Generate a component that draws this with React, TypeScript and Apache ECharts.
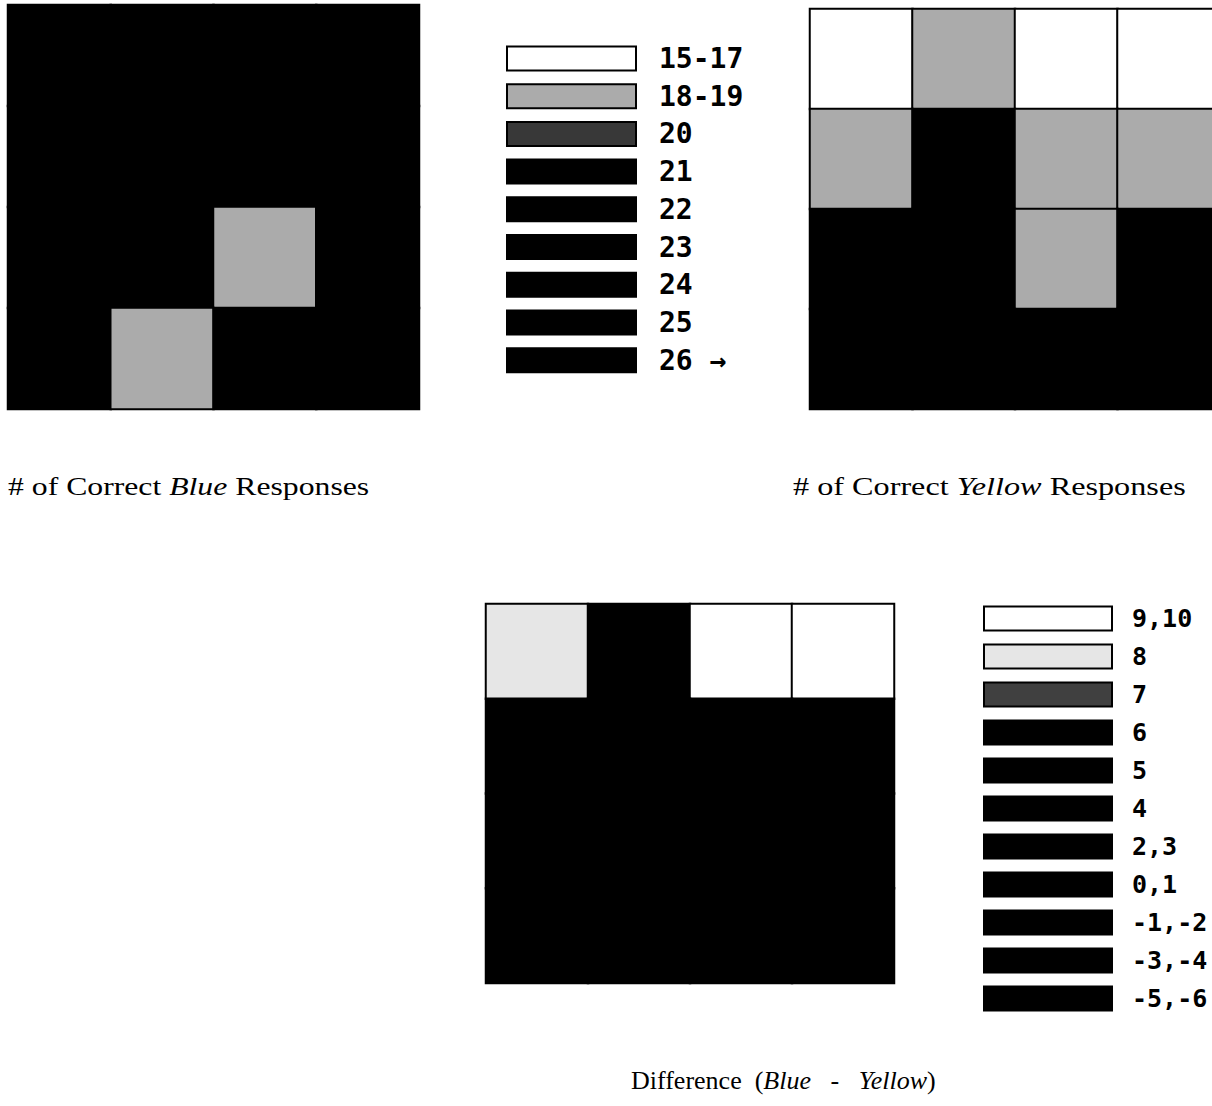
import React, { useEffect, useRef } from "react";
import * as echarts from "echarts";

// Grid columns / rows (4 x 4 conditions)
const gridCols = ["c1", "c2", "c3", "c4"];
const gridRows = ["r1", "r2", "r3", "r4"];

// # of correct Blue responses (row by row, top to bottom)
const blueValues = [
  [24, 24, 26, 26],
  [23, 24, 23, 22],
  [21, 22, 19, 23],
  [23, 18, 21, 24],
];

// # of correct Yellow responses
const yellowValues = [
  [16, 18, 16, 17],
  [18, 22, 19, 19],
  [21, 23, 18, 22],
  [22, 24, 23, 25],
];

// Difference (Blue - Yellow)
const diffValues = [
  [8, 6, 10, 9],
  [5, 2, 4, 3],
  [0, -1, 1, 1],
  [1, -6, -2, -1],
];

// Response-count legend bins
const countLabels = ["15-17", "18-19", "20", "21", "22", "23", "24", "25", "26 →"];
const countMin = [15, 18, 20, 21, 22, 23, 24, 25, 26];
const countMax = [17, 19, 20, 21, 22, 23, 24, 25, null];
const countColors = ["#ffffff", "#ababab", "#383838", "#000000", "#000000", "#000000", "#000000", "#000000", "#000000"];

// Difference legend bins
const diffLabels = ["9,10", "8", "7", "6", "5", "4", "2,3", "0,1", "-1,-2", "-3,-4", "-5,-6"];
const diffMin = [9, 8, 7, 6, 5, 4, 2, 0, -2, -4, -6];
const diffMax = [10, 8, 7, 6, 5, 4, 3, 1, -1, -3, -5];
const diffColors = ["#ffffff", "#e6e6e6", "#404040", "#000000", "#000000", "#000000", "#000000", "#000000", "#000000", "#000000", "#000000"];

function toCells(m: number[][]) {
  const out: number[][] = [];
  m.forEach((row, r) => row.forEach((v, c) => out.push([c, r, v])));
  return out;
}

function pieces(mins: number[], maxs: (number | null)[], colors: string[]) {
  return mins.map((mn, i) => {
    const p: any = { gte: mn, color: colors[i] };
    if (maxs[i] !== null) p.lte = maxs[i];
    return p;
  });
}

export default function App() {
  const ref = useRef<HTMLDivElement>(null);

  useEffect(() => {
    if (!ref.current) return;
    const chart = echarts.init(ref.current, null, { renderer: "svg" });

    const cellStyle = { borderColor: "#000", borderWidth: 2 };
    const serif = "Liberation Serif";
    const titleStyle = (text: string) => ({
      text,
      fontFamily: serif,
      fontSize: 26,
      fill: "#000",
      verticalAlign: "middle",
      rich: { i: { fontFamily: serif, fontSize: 26, fontStyle: "italic", fill: "#000" } },
    });

    const legendAxis = (grid: number, labels: string[], margin: number, fontSize: number) => ({
      type: "category",
      gridIndex: grid,
      data: labels,
      inverse: true,
      position: "right",
      axisLine: { show: false },
      axisTick: { show: false },
      splitLine: { show: false },
      axisLabel: {
        fontFamily: "DejaVu Sans Mono",
        fontWeight: "bold",
        fontSize,
        color: "#000",
        margin,
        align: "left",
      },
    });

    const g = (left: number, top: number, width: number, height: number) => ({
      left,
      top,
      width,
      height,
      containLabel: false,
      outerBoundsMode: "none",
    });

    const option: any = {
      animation: false,
      backgroundColor: "#fff",
      grid: [
        g(8, 5, 411, 404),
        g(810, 9, 410, 400),
        g(486, 604, 408, 379),
        g(506, 39.6, 131, 339.4),
        g(983, 599.5, 130, 418),
      ],
      xAxis: [
        { type: "category", gridIndex: 0, data: gridCols, show: false },
        { type: "category", gridIndex: 1, data: gridCols, show: false },
        { type: "category", gridIndex: 2, data: gridCols, show: false },
        { type: "value", gridIndex: 3, min: 0, max: 1, show: false },
        { type: "value", gridIndex: 4, min: 0, max: 1, show: false },
      ],
      yAxis: [
        { type: "category", gridIndex: 0, data: gridRows, inverse: true, show: false },
        { type: "category", gridIndex: 1, data: gridRows, inverse: true, show: false },
        { type: "category", gridIndex: 2, data: gridRows, inverse: true, show: false },
        legendAxis(3, countLabels, 22, 28),
        legendAxis(4, diffLabels, 19, 25),
      ],
      visualMap: [
        {
          type: "piecewise",
          show: false,
          dimension: 2,
          seriesIndex: [0, 1, 3],
          pieces: pieces(countMin, countMax, countColors),
        },
        {
          type: "piecewise",
          show: false,
          dimension: 2,
          seriesIndex: [2, 4],
          pieces: pieces(diffMin, diffMax, diffColors),
        },
      ],
      series: [
        { type: "heatmap", xAxisIndex: 0, yAxisIndex: 0, data: toCells(blueValues), itemStyle: cellStyle, emphasis: { disabled: true } },
        { type: "heatmap", xAxisIndex: 1, yAxisIndex: 1, data: toCells(yellowValues), itemStyle: cellStyle, emphasis: { disabled: true } },
        { type: "heatmap", xAxisIndex: 2, yAxisIndex: 2, data: toCells(diffValues), itemStyle: cellStyle, emphasis: { disabled: true } },
        {
          type: "bar",
          xAxisIndex: 3,
          yAxisIndex: 3,
          barWidth: 26,
          encode: { x: 0, y: 1 },
          data: countMin.map((v, i) => [1, i, v]),
          itemStyle: { borderColor: "#000", borderWidth: 2 },
          emphasis: { disabled: true },
        },
        {
          type: "bar",
          xAxisIndex: 4,
          yAxisIndex: 4,
          barWidth: 26,
          encode: { x: 0, y: 1 },
          data: diffMin.map((v, i) => [1, i, v]),
          itemStyle: { borderColor: "#000", borderWidth: 2 },
          emphasis: { disabled: true },
        },
      ],
      graphic: [
        {
          type: "text",
          x: 8,
          y: 486,
          scaleX: 1.22,
          style: titleStyle("# of Correct {i|Blue} Responses"),
        },
        {
          type: "text",
          x: 793,
          y: 486,
          scaleX: 1.24,
          style: titleStyle("# of Correct {i|Yellow} Responses"),
        },
        {
          type: "text",
          x: 631,
          y: 1080,
          style: titleStyle("Difference  ({i|Blue}   -   {i|Yellow})"),
        },
      ],
    };

    chart.setOption(option);
    return () => chart.dispose();
  }, []);

  return (
    <div
      ref={ref}
      style={{ position: "absolute", left: 0, top: 0, width: 1212, height: 1106 }}
    />
  );
}
